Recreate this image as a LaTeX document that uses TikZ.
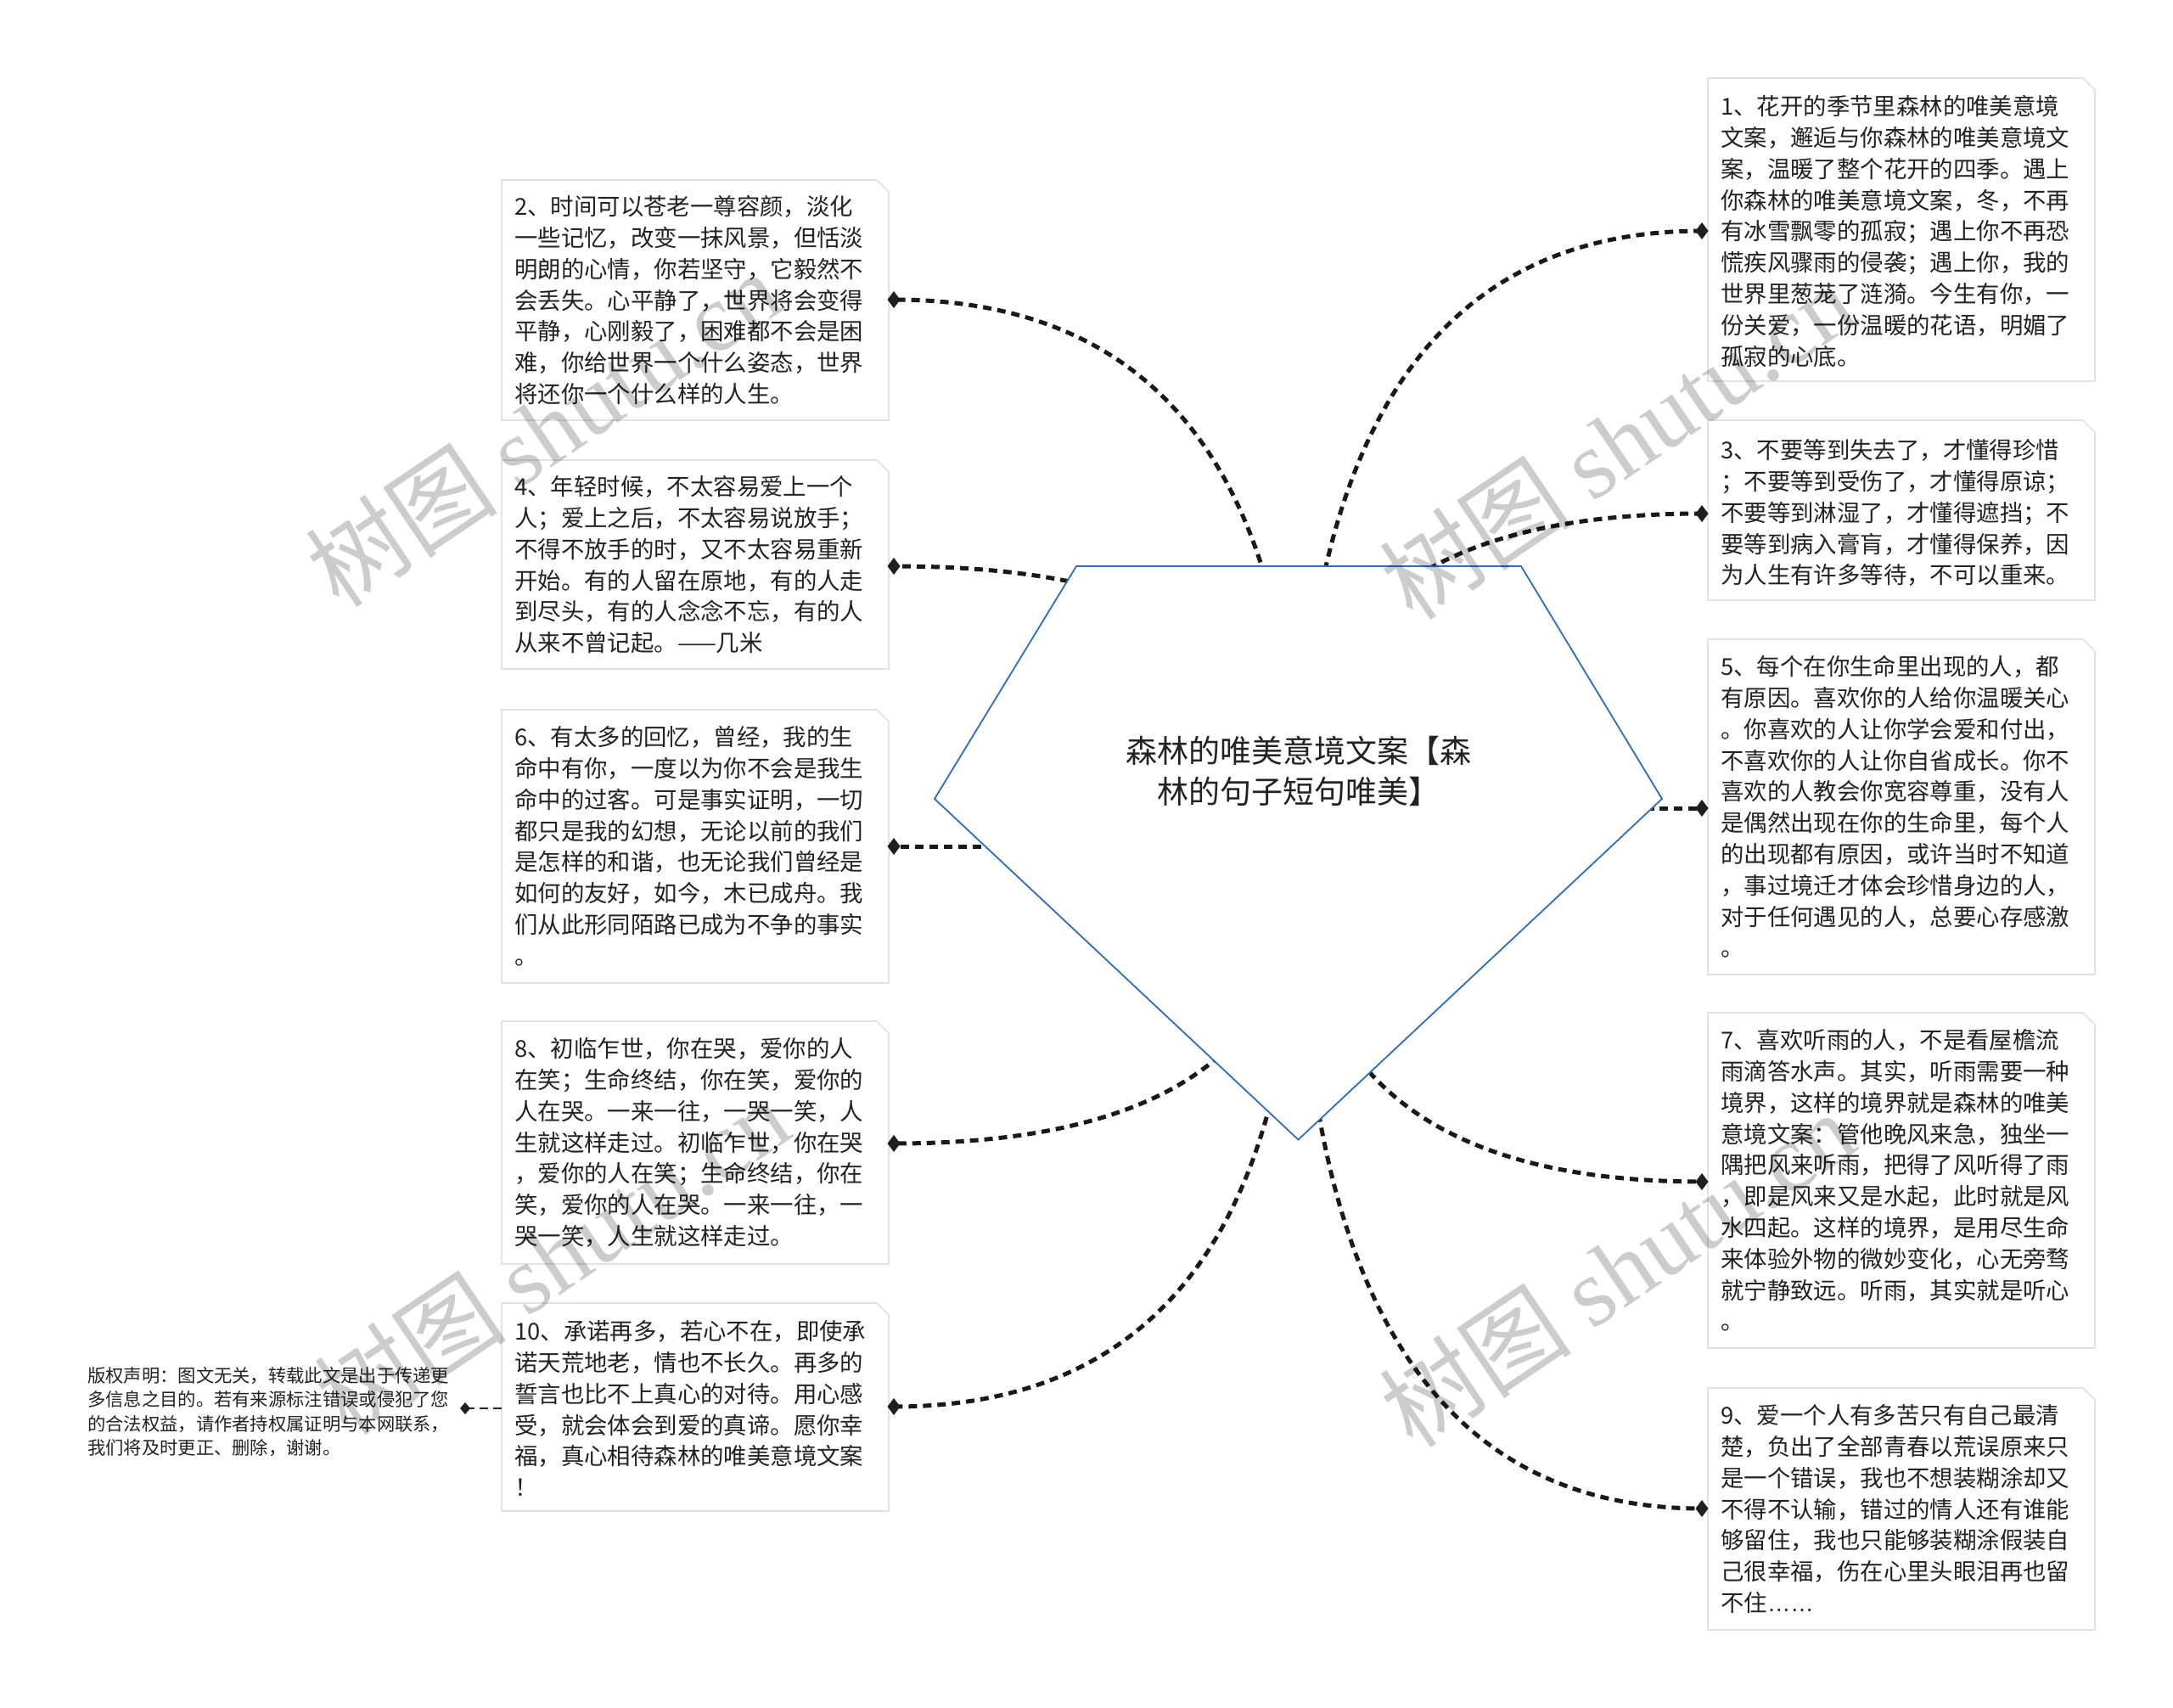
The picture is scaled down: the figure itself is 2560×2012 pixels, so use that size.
\documentclass[tikz,border=0pt]{standalone}
\usepackage{fontspec}
\newfontfamily\cjk{Noto Sans CJK SC}
\newfontfamily\lsans{Liberation Sans}
\newfontfamily\lserif{Liberation Serif}
\usetikzlibrary{calc}
\definecolor{pentblue}{RGB}{47,108,190}
\definecolor{boxline}{RGB}{226,226,226}
\definecolor{txt}{RGB}{34,34,34}
\tikzset{
  conn/.style={line width=5pt, dash pattern=on 10pt off 7pt, black!90},
  card/.style={fill=white, draw=boxline, line width=1.6pt},
  cardtext/.style={anchor=north west, inner sep=0pt, align=left, text=txt, font=\cjk\fontsize{27.4}{36.8}\selectfont},
  tipmark/.style={fill=black!88},
  wmark/.style={text=black, opacity=0.2, rotate=34, inner sep=0pt, font=\fontsize{114}{120}\selectfont}
}
\newcommand\mycard[4]{\draw[card] (#1,#2) -- ({#3-14},#2) -- (#3,{#2+14}) -- (#3,#4) -- (#1,#4) -- cycle;}
\newcommand\mytip[1]{\fill[tipmark,shift={(#1)}] (-7.5,0) -- (0,-10) -- (7.5,0) -- (0,10) -- cycle;}
\newcommand\myconn[1]{\coordinate (q#1) at (d#1 -| k#1);
  \draw[conn] (k#1) .. controls ($(k#1)!2/3!(q#1)$) and ($(d#1)!2/3!(q#1)$) .. (d#1);}
\newcommand\firstline{\rule{0pt}{30pt}}
\begin{document}
\begin{tikzpicture}[x=1pt,y=-1pt]
\useasboundingbox (0,0) rectangle (2560,2012);
\fill[white] (0,0) rectangle (2560,2012);

% connector ends
\coordinate (d1) at (2005,272);  \coordinate (k1) at (1530,993);
\coordinate (d2) at (1053,353);  \coordinate (k2) at (1530,998);
\coordinate (d3) at (2005,605);  \coordinate (k3) at (1530,954);
\coordinate (d4) at (1053,667);  \coordinate (k4) at (1530,960);
\coordinate (d5) at (2005,952);  \coordinate (k5) at (1530,952);
\coordinate (d6) at (1053,997);  \coordinate (k6) at (1530,997);
\coordinate (d7) at (2005,1392); \coordinate (k7) at (1530,1010);
\coordinate (d8) at (1053,1347); \coordinate (k8) at (1530,1015);
\coordinate (d9) at (2005,1777); \coordinate (k9) at (1530,1007);
\coordinate (d10) at (1053,1657); \coordinate (k10) at (1530,996);

\myconn{1}\myconn{2}\myconn{3}\myconn{4}\myconn{5}
\myconn{6}\myconn{7}\myconn{8}\myconn{9}\myconn{10}

% central pentagon
\coordinate (p1) at (1268,667);
\coordinate (p2) at (1792,667);
\coordinate (p3) at (1958,941);
\coordinate (p4) at (1529.5,1342.5);
\coordinate (p5) at (1101,941);
\draw[pentblue, line width=1.8pt, fill=white] (p1) -- (p2) -- (p3) -- (p4) -- (p5) -- cycle;
\node[anchor=north, inner sep=0pt, align=center, text=txt, font=\cjk\fontsize{37}{48}\selectfont] (root) at (1530,858)
  {\rule{0pt}{40pt}森林的唯美意境文案【森\\林的句子短句唯美】};

% left cards
\mycard{591}{212}{1047}{495}
\node[cardtext] (t2) at (606,223.4) {\firstline 2、时间可以苍老一尊容颜，淡化\\一些记忆，改变一抹风景，但恬淡\\明朗的心情，你若坚守，它毅然不\\会丢失。心平静了，世界将会变得\\平静，心刚毅了，困难都不会是困\\难，你给世界一个什么姿态，世界\\将还你一个什么样的人生。};
\mycard{591}{542}{1047}{788}
\node[cardtext] (t4) at (606,553.4) {\firstline 4、年轻时候，不太容易爱上一个\\人；爱上之后，不太容易说放手；\\不得不放手的时，又不太容易重新\\开始。有的人留在原地，有的人走\\到尽头，有的人念念不忘，有的人\\从来不曾记起。——几米};
\mycard{591}{836}{1047}{1158}
\node[cardtext] (t6) at (606,848.4) {\firstline 6、有太多的回忆，曾经，我的生\\命中有你，一度以为你不会是我生\\命中的过客。可是事实证明，一切\\都只是我的幻想，无论以前的我们\\是怎样的和谐，也无论我们曾经是\\如何的友好，如今，木已成舟。我\\们从此形同陌路已成为不争的事实\\。};
\mycard{591}{1203}{1047}{1489}
\node[cardtext] (t8) at (606,1215.4) {\firstline 8、初临乍世，你在哭，爱你的人\\在笑；生命终结，你在笑，爱你的\\人在哭。一来一往，一哭一笑，人\\生就这样走过。初临乍世，你在哭\\，爱你的人在笑；生命终结，你在\\笑，爱你的人在哭。一来一往，一\\哭一笑，人生就这样走过。};
\mycard{591}{1535}{1047}{1780}
\node[cardtext] (t10) at (606,1548.4) {\firstline 10、承诺再多，若心不在，即使承\\诺天荒地老，情也不长久。再多的\\誓言也比不上真心的对待。用心感\\受，就会体会到爱的真谛。愿你幸\\福，真心相待森林的唯美意境文案\\！};

% right cards
\mycard{2012}{92}{2468}{449}
\node[cardtext] (t1) at (2027,105.4) {\firstline 1、花开的季节里森林的唯美意境\\文案，邂逅与你森林的唯美意境文\\案，温暖了整个花开的四季。遇上\\你森林的唯美意境文案，冬，不再\\有冰雪飘零的孤寂；遇上你不再恐\\慌疾风骤雨的侵袭；遇上你，我的\\世界里葱茏了涟漪。今生有你，一\\份关爱，一份温暖的花语，明媚了\\孤寂的心底。};
\mycard{2012}{495}{2468}{707}
\node[cardtext] (t3) at (2027,510.4) {\firstline 3、不要等到失去了，才懂得珍惜\\；不要等到受伤了，才懂得原谅；\\不要等到淋湿了，才懂得遮挡；不\\要等到病入膏肓，才懂得保养，因\\为人生有许多等待，不可以重来。};
\mycard{2012}{753}{2468}{1148}
\node[cardtext] (t5) at (2027,765.4) {\firstline 5、每个在你生命里出现的人，都\\有原因。喜欢你的人给你温暖关心\\。你喜欢的人让你学会爱和付出，\\不喜欢你的人让你自省成长。你不\\喜欢的人教会你宽容尊重，没有人\\是偶然出现在你的生命里，每个人\\的出现都有原因，或许当时不知道\\，事过境迁才体会珍惜身边的人，\\对于任何遇见的人，总要心存感激\\。};
\mycard{2012}{1193}{2468}{1588}
\node[cardtext] (t7) at (2027,1205.4) {\firstline 7、喜欢听雨的人，不是看屋檐流\\雨滴答水声。其实，听雨需要一种\\境界，这样的境界就是森林的唯美\\意境文案：管他晚风来急，独坐一\\隅把风来听雨，把得了风听得了雨\\，即是风来又是水起，此时就是风\\水四起。这样的境界，是用尽生命\\来体验外物的微妙变化，心无旁骛\\就宁静致远。听雨，其实就是听心\\。};
\mycard{2012}{1635}{2468}{1920}
\node[cardtext] (t9) at (2027,1647.4) {\firstline 9、爱一个人有多苦只有自己最清\\楚，负出了全部青春以荒误原来只\\是一个错误，我也不想装糊涂却又\\不得不认输，错过的情人还有谁能\\够留住，我也只能够装糊涂假装自\\己很幸福，伤在心里头眼泪再也留\\不住{\lsans ……}};

% diamonds
\mytip{d1}\mytip{d2}\mytip{d3}\mytip{d4}\mytip{d5}
\mytip{d6}\mytip{d7}\mytip{d8}\mytip{d9}\mytip{d10}

% copyright note
\coordinate (dc) at (548,1659);
\coordinate (b10w) at (591,1659);
\draw[line width=2.5pt, dash pattern=on 10pt off 6pt, black!85] (b10w) -- (dc);
\fill[tipmark,shift={(dc)}] (-6,0) -- (0,-7) -- (6,0) -- (0,7) -- cycle;
\node[anchor=north west, inner sep=0pt, align=left, text=txt, font=\cjk\fontsize{21.3}{28.5}\selectfont] (note) at (103,1603)
  {\rule{0pt}{25pt}版权声明：图文无关，转载此文是出于传递更\\多信息之目的。若有来源标注错误或侵犯了您\\的合法权益，请作者持权属证明与本网联系，\\我们将及时更正、删除，谢谢。};

% watermarks
\node[wmark] (wm1) at (640,505) {\cjk 树图 \lserif shutu.cn};
\node[wmark] (wm2) at (1905,520) {\cjk 树图 \lserif shutu.cn};
\node[wmark] (wm3) at (650,1480) {\cjk 树图 \lserif shutu.cn};
\node[wmark] (wm4) at (1905,1495) {\cjk 树图 \lserif shutu.cn};
\end{tikzpicture}
\end{document}
